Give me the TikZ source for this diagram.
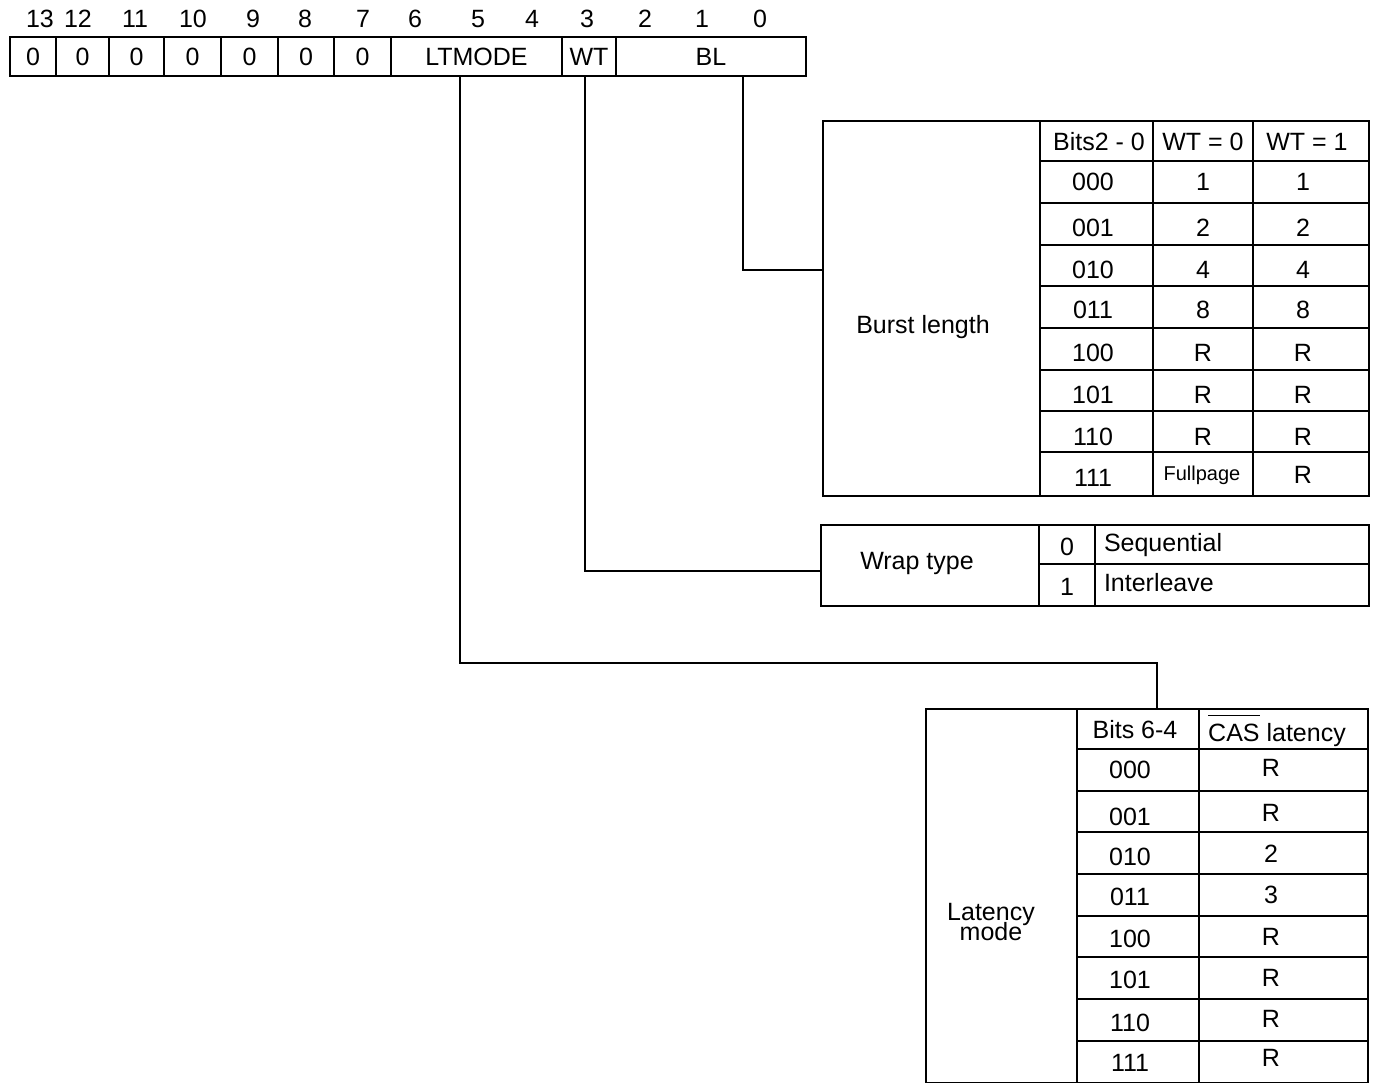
\documentclass[tikz,border=0pt]{standalone}
\usepackage{fontspec}
\setmainfont{Liberation Sans}
\usetikzlibrary{positioning}

\begin{document}
\begin{tikzpicture}[
    x=0.5pt, y=-0.5pt,
    line width=1pt,
    font=\fontsize{12.5}{10.5}\selectfont,
    every node/.style={inner sep=0pt},
    bitcell/.style={draw, anchor=north west, minimum height=19.5pt},
    tablebox/.style={draw, anchor=north west},
    smalltext/.style={font=\fontsize{10}{12}\selectfont}
]
\useasboundingbox (0,0) rectangle (1378,1083);

% register
\foreach \xl/\xr/\val/\name in {9/55/0/r13, 55/108/0/r12, 108/163/0/r11,
    163/220/0/r10, 220/277/0/r9, 277/333/0/r8, 333/390/0/r7,
    390/561/LTMODE/ltmode, 561/615/WT/wt, 615/805/BL/bl}
    \node[bitcell, minimum width={(\xr-\xl)*0.5pt}] (\name) at (\xl,36) {\val};

\foreach \x/\b in {40/13, 78/12, 135/11, 193/10, 253/9, 305/8, 363/7,
    415/6, 478/5, 532/4, 587/3, 645/2, 702/1, 760/0}
    \node (n\b) at (\x,19) {\b};

% burst length table
\node[tablebox, minimum width=273pt, minimum height=187.5pt] (bursttab) at (822,120) {};
\node (burstlbl) at (923,327) {Burst length};
\foreach \x in {1040,1153,1253}
    \draw (\x,120) -- (\x,495);
\foreach \y in {161,203,245,286,328,370,411,452}
    \draw (1040,\y) -- (1368,\y);
\node (bhdr) at (1099,142) {Bits2 - 0};
\node (bwt0) at (1203,142) {WT = 0};
\node (bwt1) at (1307,142) {WT = 1};
\foreach \y/\b/\a/\c in {182/000/1/1, 228/001/2/2, 270/010/4/4, 310/011/8/8,
    353/100/R/R, 395/101/R/R, 437/110/R/R}
{
    \node (bb\b) at (1093,\y) {\b};
    \node (ba\b) at (1203,\y) {\a};
    \node (bc\b) at (1303,\y) {\c};
}
\node (bb111) at (1093,478) {111};
\node[smalltext] (ba111) at (1202,475) {Fullpage};
\node (bc111) at (1303,475) {R};

% wrap type table
\node[tablebox, minimum width=274pt, minimum height=40.5pt] (wraptab) at (820,524) {};
\node (wraplbl) at (917,563) {Wrap type};
\draw (1039,524) -- (1039,605);
\draw (1095,524) -- (1095,605);
\draw (1039,564) -- (1368,564);
\node (w0) at (1067,547) {0};
\node (w1) at (1067,587) {1};
\node[anchor=west] (wseq) at (1103,545) {Sequential};
\node[anchor=west] (wint) at (1103,583) {Interleave};

% latency mode table
\node[tablebox, minimum width=221pt, minimum height=187pt] (lattab) at (925,708) {};
\node[align=center] (latlbl) at (991,922) {Latency\\[-2.2pt]mode};
\foreach \x in {1077,1199}
    \draw (\x,708) -- (\x,1082);
\foreach \y in {749,791,832,874,916,957,999,1041}
    \draw (1077,\y) -- (1367,\y);
\node (lhdr) at (1135,730) {Bits 6-4};
\node[anchor=base] (lcas) at (1277,741)
    {$\overline{\mbox{CAS}\rule{0pt}{11.5pt}}$ latency};
\foreach \yb/\b/\yc/\c in {770/000/768/R, 817/001/813/R, 857/010/854/2,
    897/011/895/3, 939/100/937/R, 980/101/978/R, 1023/110/1019/R, 1063/111/1058/R}
{
    \node (lb\b) at (1130,\yb) {\b};
    \node (lc\b) at (1271,\yc) {\c};
}

% connectors
\coordinate (blturn) at (743,270);
\draw (bl.south -| blturn) -- (blturn) -- (blturn -| bursttab.west);
\coordinate (wtturn) at (585,571);
\draw (wt.south -| wtturn) -- (wtturn) -- (wtturn -| wraptab.west);
\coordinate (ltturn) at (460,663);
\coordinate (latturn) at (1157,663);
\draw (ltmode.south -| ltturn) -- (ltturn) -- (latturn) -- (latturn |- lattab.north);
\end{tikzpicture}
\end{document}
